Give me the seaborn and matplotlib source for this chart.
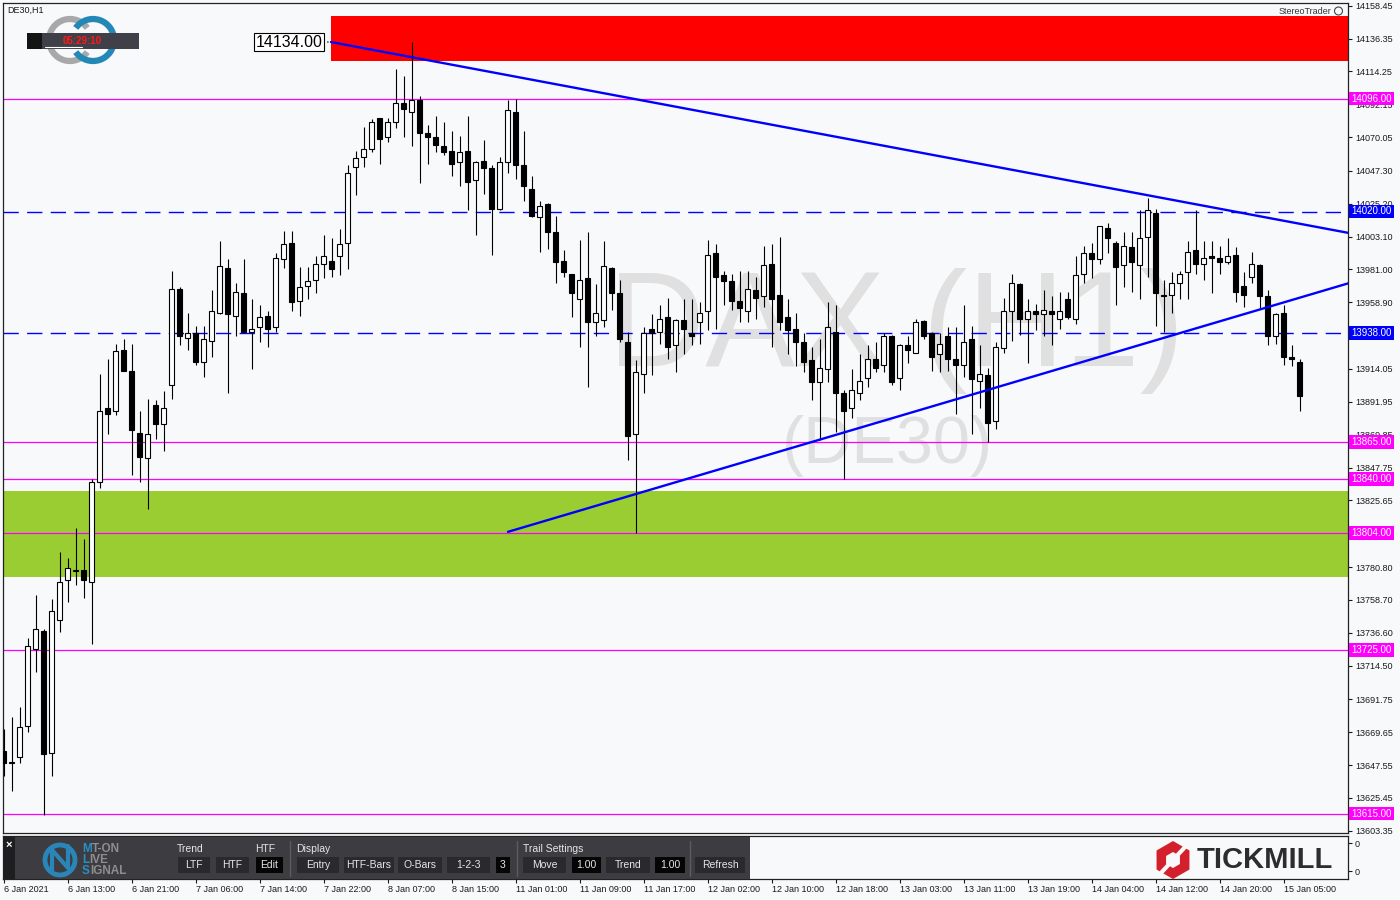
import numpy as np
import pandas as pd
import seaborn as sns
import matplotlib.pyplot as plt
from matplotlib import patches
from matplotlib.transforms import blended_transform_factory

# DE30 H1 candles, 6 Jan 2021 05:00 .. 15 Jan 2021 07:00 (one row per bar)
opens = [13657, 13649, 13653, 13674, 13726, 13738, 13656, 13745, 13772, 13778,
         13779, 13771, 13838, 13888, 13886, 13927, 13913, 13871, 13854, 13890,
         13877, 13903, 13968, 13935, 13938, 13919, 13933, 13952, 13982, 13950,
         13965, 13939, 13942, 13950, 13942, 13988, 13999, 13960, 13970, 13974,
         13985, 13987, 13990, 13999, 14050, 14057, 14062, 14083, 14070, 14080,
         14093, 14087, 14095, 14073, 14070, 14064, 14061, 14053, 14061, 14041,
         14054, 14049, 14022, 14053, 14087, 14051, 14035, 14016, 14025, 14006,
         13987, 13978, 13961, 13975, 13946, 13947, 13982, 13965, 13932, 13870,
         13911, 13941, 13939, 13949, 13930, 13947, 13938, 13946, 13953, 13992,
         13977, 13973, 13960, 13953, 13967, 13963, 13985, 13964, 13949, 13941,
         13932, 13920, 13905, 13914, 13939, 13898, 13888, 13898, 13908, 13921,
         13917, 13936, 13908, 13930, 13925, 13946, 13938, 13924, 13936, 13921,
         13917, 13934, 13906, 13910, 13879, 13928, 13953, 13971, 13948, 13953,
         13951, 13953, 13948, 13961, 13948, 13978, 13992, 13988, 14009, 13999,
         13984, 13996, 13984, 14003, 14019, 13964, 13964, 13972, 13979, 13994,
         13985, 13990, 13989, 13986, 13991, 13970, 13976, 13984, 13963, 13936,
         13952, 13922, 13919]
highs = [13672, 13680, 13687, 13733, 13762, 13739, 13759, 13791, 13787, 13807,
         13800, 13840, 13911, 13921, 13931, 13934, 13931, 13886, 13894, 13893,
         13899, 13980, 13969, 13952, 13943, 13943, 13967, 14000, 13988, 13972,
         13988, 13961, 13957, 13953, 13992, 14007, 14007, 13983, 13983, 13990,
         14004, 14002, 14008, 14051, 14061, 14077, 14082, 14083, 14083, 14116,
         14111, 14134, 14098, 14078, 14084, 14080, 14074, 14071, 14084, 14054,
         14068, 14051, 14057, 14095, 14096, 14074, 14044, 14027, 14026, 14017,
         13994, 13978, 14001, 14006, 13971, 14000, 13983, 13974, 13939, 13920,
         13942, 13951, 13957, 13962, 13948, 13961, 13961, 13959, 14001, 13998,
         13980, 13978, 13980, 13980, 13976, 13997, 13998, 14003, 13961, 13952,
         13938, 13929, 13934, 13959, 13957, 13900, 13914, 13924, 13930, 13932,
         13938, 13937, 13931, 13936, 13948, 13947, 13939, 13938, 13942, 13942,
         13957, 13943, 13930, 13915, 13932, 13962, 13978, 13972, 13961, 13958,
         13967, 13963, 13966, 13966, 13990, 13997, 13999, 14010, 14012, 14000,
         14006, 14006, 14021, 14029, 14022, 13974, 13979, 13980, 14000, 14021,
         14000, 14000, 13997, 14002, 13996, 13979, 13993, 13985, 13967, 13952,
         13957, 13930, 13921]
lows = [13640, 13630, 13649, 13670, 13710, 13614, 13640, 13737, 13757, 13769,
        13760, 13729, 13834, 13870, 13883, 13913, 13843, 13838, 13820, 13867,
        13859, 13894, 13930, 13927, 13917, 13909, 13922, 13951, 13898, 13936,
        13938, 13914, 13932, 13929, 13939, 13982, 13953, 13950, 13961, 13965,
        13975, 13976, 13977, 13981, 14031, 14050, 14060, 14052, 14067, 14076,
        14070, 14064, 14039, 14052, 14060, 14058, 14044, 14037, 14021, 14004,
        14032, 13991, 14021, 14046, 14042, 14027, 14016, 13993, 13995, 13972,
        13976, 13949, 13929, 13902, 13936, 13942, 13954, 13932, 13853, 13804,
        13898, 13910, 13931, 13921, 13912, 13924, 13930, 13931, 13940, 13941,
        13957, 13954, 13946, 13946, 13948, 13956, 13929, 13940, 13924, 13916,
        13912, 13893, 13866, 13905, 13872, 13840, 13881, 13893, 13902, 13912,
        13912, 13903, 13900, 13918, 13925, 13934, 13913, 13912, 13913, 13884,
        13909, 13870, 13888, 13865, 13874, 13925, 13933, 13937, 13918, 13940,
        13936, 13930, 13941, 13948, 13944, 13972, 13975, 13985, 13992, 13957,
        13969, 13966, 13961, 13976, 13943, 13939, 13952, 13961, 13961, 13978,
        13974, 13965, 13978, 13985, 13959, 13956, 13972, 13955, 13930, 13931,
        13917, 13916, 13886]
closes = [13649, 13650, 13673, 13728, 13739, 13655, 13751, 13771, 13780, 13779,
          13772, 13838, 13886, 13884, 13926, 13913, 13873, 13855, 13870, 13877,
          13888, 13968, 13936, 13938, 13919, 13934, 13953, 13983, 13951, 13966,
          13939, 13941, 13949, 13941, 13989, 13998, 13959, 13969, 13973, 13985,
          13990, 13981, 13998, 14046, 14056, 14062, 14080, 14069, 14080, 14093,
          14089, 14095, 14073, 14070, 14065, 14060, 14052, 14060, 14040, 14053,
          14049, 14022, 14053, 14088, 14051, 14037, 14017, 14024, 14006, 13986,
          13979, 13965, 13974, 13946, 13952, 13983, 13965, 13934, 13869, 13912,
          13938, 13938, 13948, 13929, 13947, 13941, 13936, 13952, 13991, 13976,
          13973, 13960, 13955, 13968, 13962, 13984, 13961, 13946, 13940, 13932,
          13919, 13905, 13915, 13942, 13898, 13886, 13900, 13906, 13921, 13915,
          13936, 13905, 13930, 13927, 13946, 13936, 13922, 13931, 13921, 13917,
          13932, 13907, 13911, 13878, 13929, 13953, 13972, 13948, 13953, 13951,
          13954, 13951, 13953, 13949, 13977, 13992, 13988, 14010, 14002, 13983,
          13997, 13986, 14002, 14021, 13965, 13963, 13972, 13978, 13993, 13985,
          13989, 13989, 13986, 13990, 13966, 13964, 13985, 13963, 13936, 13951,
          13922, 13921, 13896]

tick_bars = list(range(0, 161, 8))
tick_labels = ['6 Jan 2021', '6 Jan 13:00', '6 Jan 21:00', '7 Jan 06:00', '7 Jan 14:00',
               '7 Jan 22:00', '8 Jan 07:00', '8 Jan 15:00', '11 Jan 01:00', '11 Jan 09:00',
               '11 Jan 17:00', '12 Jan 02:00', '12 Jan 10:00', '12 Jan 18:00', '13 Jan 03:00',
               '13 Jan 11:00', '13 Jan 19:00', '14 Jan 04:00', '14 Jan 12:00', '14 Jan 20:00',
               '15 Jan 05:00']

price_ticks = [14158.45, 14136.35, 14114.25, 14092.15, 14070.05, 14047.30, 14025.20,
               14003.10, 13981.00, 13958.90, 13936.80, 13914.05, 13891.95, 13869.85,
               13847.75, 13825.65, 13803.55, 13780.80, 13758.70, 13736.60, 13714.50,
               13691.75, 13669.65, 13647.55, 13625.45, 13603.35]
# ticks whose label sits fully under a level box
hidden_ticks = [13936.80, 13803.55]

magenta_levels = [14096.00, 13865.00, 13840.00, 13804.00, 13725.00, 13615.00]
blue_levels = [14020.00, 13938.00]

red_zone_start = 40.94
red_zone = [14121.5, 14151.2]
green_zone = [13774.2, 13832.1]

# trendline anchors (bar, price); both are rays to the right edge
trend_down_x = [40.94, 160]
trend_down_y = [14134.0, 14013.8]
trend_up_x = [63.06, 160]
trend_up_y = [13804.5, 13958.8]

W, H = 1400, 900
BG = '#f8f9fb'
XMIN, XMAX = -0.125, 168.06
YMIN, YMAX = 13601.9, 14160.6

sns.set_theme(style='white')
plt.rcParams['font.family'] = ['Liberation Sans', 'DejaVu Sans']

df = pd.DataFrame({'open': opens, 'high': highs, 'low': lows, 'close': closes})
df['bar'] = np.arange(len(df))
df['up'] = df['close'] >= df['open']

fig = plt.figure(figsize=(14, 9), dpi=100, facecolor=BG)
ax = fig.add_axes([2.5 / W, 1 - 833 / H, (1348 - 2.5) / W, (833 - 2.5) / H])
ax2 = fig.add_axes([2.5 / W, 1 - 879 / H, (1348 - 2.5) / W, (879 - 836) / H])

ax.set_facecolor(BG)
ax.set_xlim(XMIN, XMAX)
ax.set_ylim(YMIN, YMAX)

# watermark
ax.text(0.664, 0.604, 'DAX (H1)', transform=ax.transAxes, fontsize=97,
        color='#e0e0e0', ha='center', va='center', zorder=0.5)
ax.text(0.658, 0.466, '(DE30)', transform=ax.transAxes, fontsize=48,
        color='#e0e0e0', ha='center', va='center', zorder=0.5)

# zones
ax.add_patch(patches.Rectangle((red_zone_start, red_zone[0]), XMAX - red_zone_start,
                               red_zone[1] - red_zone[0], color='#ff0000', lw=0, zorder=1))
ax.add_patch(patches.Rectangle((XMIN, green_zone[0]), XMAX - XMIN,
                               green_zone[1] - green_zone[0], color='#9acd32', lw=0, zorder=1))

for lvl in magenta_levels:
    ax.axhline(lvl, color='#ff00ff', lw=0.9, zorder=2)
for lvl in blue_levels:
    ax.axhline(lvl, color='#0000ff', lw=1.0, dashes=(11, 6), zorder=2)

# candles
ax.vlines(df['bar'], df['low'], df['high'], color='black', lw=0.8, zorder=3)
body_lo = np.minimum(df['open'], df['close'])
body_h = np.maximum((df['close'] - df['open']).abs(), 0.8)
ax.bar(df['bar'], body_h, bottom=body_lo, width=0.56,
       color=np.where(df['up'], 'white', 'black'), edgecolor='black',
       linewidth=0.8, zorder=4)

# trendlines as rays
for tx, ty in [(trend_down_x, trend_down_y), (trend_up_x, trend_up_y)]:
    slope = (ty[1] - ty[0]) / (tx[1] - tx[0])
    ray = pd.DataFrame({'x': [tx[0], XMAX], 'y': [ty[0], ty[0] + slope * (XMAX - tx[0])]})
    sns.lineplot(data=ray, x='x', y='y', ax=ax, color='#0000ff', lw=1.7, zorder=5)

ax.annotate(f'{trend_down_y[0]:.2f}', xy=(trend_down_x[0], trend_down_y[0]),
            xytext=(-6, 0), textcoords='offset points', ha='right', va='center',
            fontsize=11.5, color='black',
            bbox=dict(boxstyle='square,pad=0.1', fc='white', ec='black', lw=0.8),
            arrowprops=dict(arrowstyle='-', color='black', lw=0.8), zorder=6)

ax.set_xlabel('')
ax.set_ylabel('')
ax.set_xticks([])
ax.yaxis.tick_right()
ax.set_yticks(price_ticks)
ax.set_yticklabels(['' if v in hidden_ticks else f'{v:.2f}' for v in price_ticks])
ax.tick_params(axis='y', right=True, left=False, labelright=True, labelleft=False,
               length=3, width=0.8, pad=2, labelsize=6.5, colors='#1a1a1a')
for s in ax.spines.values():
    s.set_color('#222222')
    s.set_linewidth(0.9)

trans = blended_transform_factory(ax.transAxes, ax.transData)
for lvl, col in [(v, '#ff00ff') for v in magenta_levels] + [(v, '#0000ff') for v in blue_levels]:
    ax.text(1.0025, lvl, f'{lvl:.2f}', transform=trans, color='white', fontsize=7,
            ha='left', va='center', clip_on=False, zorder=7,
            bbox=dict(boxstyle='square,pad=0.2', fc=col, ec='none'))

# indicator window
ax2.set_facecolor(BG)
ax2.set_xlim(XMIN, XMAX)
ax2.set_ylim(0, 1)
ax2.set_xticks(tick_bars)
ax2.set_xticklabels(tick_labels, ha='left')
ax2.yaxis.tick_right()
ax2.set_yticks([0.186, 0.837])
ax2.set_yticklabels(['0', '0'])
ax2.tick_params(axis='x', bottom=True, length=3, width=0.8, pad=1.5, labelsize=6.5, colors='#1a1a1a')
ax2.tick_params(axis='y', right=True, left=False, labelright=True, labelleft=False,
                length=3, width=0.8, pad=2, labelsize=6.5, colors='#1a1a1a')
for s in ax2.spines.values():
    s.set_color('#222222')
    s.set_linewidth(0.9)

# decorations in pixel space
ov = fig.add_axes([0, 0, 1, 1], facecolor='none')
ov.set_xlim(0, W)
ov.set_ylim(H, 0)
ov.axis('off')

ov.text(7, 10, 'DE30,H1', fontsize=6.5, va='center', color='#1a1a1a')
ov.add_patch(patches.Arc((70, 40), 42, 42, theta1=35, theta2=325, lw=4.5, color='#a8a8a8'))
ov.add_patch(patches.Arc((93, 40), 42, 42, theta1=-145, theta2=145, lw=4.5, color='#2488b6'))
ov.add_patch(patches.Rectangle((27, 33), 112, 16, fc='#404048', ec='none'))
ov.add_patch(patches.Rectangle((27, 33), 15, 16, fc='#141414', ec='none'))
ov.plot([45, 82], [46.5, 46.5], color='white', lw=0.8)
ov.text(82, 40.5, '05:29:10', color='#ff1a1a', fontsize=7, weight='bold', ha='center', va='center')
ov.text(1331, 11, 'StereoTrader', fontsize=6.5, color='#333333', ha='right', va='center')
ov.add_patch(patches.Circle((1338.5, 11), 4, fc='none', ec='#444444', lw=0.8))

# toolbar
ov.add_patch(patches.Rectangle((3, 837), 747, 42, fc='#3c3c41', ec='none'))
ov.add_patch(patches.Rectangle((3, 837), 12, 42, fc='#1e1e20', ec='none'))
ov.text(9, 845, '×', color='white', fontsize=8, ha='center', va='center', weight='bold')
ov.add_patch(patches.Arc((60, 860), 30, 30, theta1=0, theta2=360, lw=3.5, color='#2a86b8'))
ov.plot([52, 52, 68, 68], [872, 850, 868, 846], color='#2a86b8', lw=3)
for word, yy in [('MT-ON', 849), ('LIVE', 860), ('SIGNAL', 871)]:
    first = ov.text(82, yy, word[0], fontsize=8.5, weight='bold', color='#2a8fc4', va='center')
    ov.annotate(word[1:], xy=(1, 0.5), xycoords=first, fontsize=8.5, weight='bold',
                color='#8e8e8e', va='center', ha='left')

for txt, xx in [('Trend', 177), ('HTF', 255), ('Display', 296), ('Trail Settings', 523)]:
    ov.text(xx, 849, txt, fontsize=7.5, color='#e6e6e6', va='center')
for xx in [290, 517, 690]:
    ov.plot([xx, xx], [841, 876], color='#5c5c62', lw=1)

buttons = [(178, 210, 'LTF', '#2a2a2e'), (216, 249, 'HTF', '#2a2a2e'), (256, 283, 'Edit', '#050505'),
           (297, 339, 'Entry', '#2a2a2e'), (344, 394, 'HTF-Bars', '#2a2a2e'),
           (398, 442, 'O-Bars', '#2a2a2e'), (447, 490, '1-2-3', '#2a2a2e'), (496, 510, '3', '#050505'),
           (523, 566, 'Move', '#2a2a2e'), (572, 601, '1.00', '#050505'), (606, 650, 'Trend', '#2a2a2e'),
           (655, 685, '1.00', '#050505'), (695, 745, 'Refresh', '#2a2a2e')]
for x0, x1, txt, col in buttons:
    ov.add_patch(patches.Rectangle((x0, 857), x1 - x0, 16, fc=col, ec='none'))
    ov.text((x0 + x1) / 2, 865.5, txt, fontsize=7.5, color='#e6e6e6', ha='center', va='center')

# broker logo
ov.add_patch(patches.RegularPolygon((1173, 860), 6, radius=19, fc='#d4202c', ec='none'))
ov.add_patch(patches.RegularPolygon((1173, 860), 6, radius=8, fc=BG, ec='none'))
ov.plot([1160, 1186], [874, 846], color=BG, lw=3)
ov.text(1197, 860, 'TICKMILL', fontsize=21, weight='bold', color='#2d2d2d', va='center')

fig.savefig('out.png', dpi=100, facecolor=BG)
